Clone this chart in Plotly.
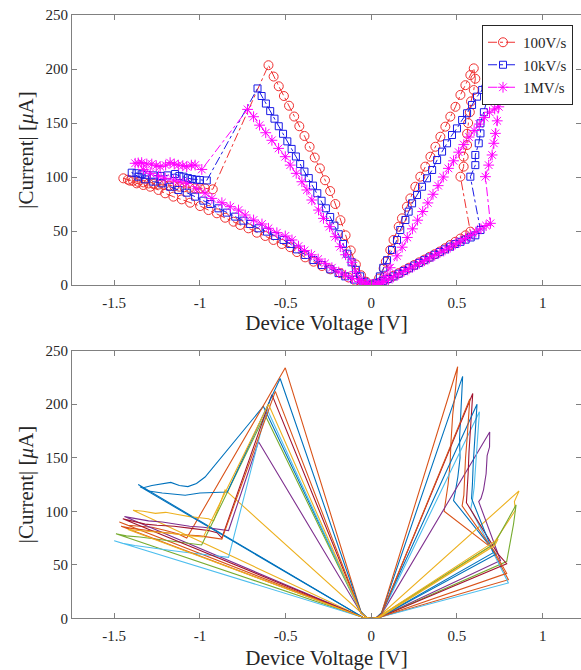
import plotly.graph_objects as go

# ---------------- top panel data (Device voltage [V], |Current| [uA]) ----------------
v_100V = [0, -0.054, -0.093, -0.133, -0.181, -0.239, -0.288, -0.337, -0.386, -0.434, -0.473, -0.522, -0.571, -0.619,
          -0.668, -0.717, -0.765, -0.804, -0.853, -0.901, -0.95, -0.999, -1.057, -1.106, -1.155, -1.203, -1.242,
          -1.29, -1.33, -1.369, -1.408, -1.447,
          -1.42, -1.39, -1.36, -1.33, -1.30, -1.27, -1.24, -1.21, -1.18, -1.15, -1.12, -1.09, -1.06, -1.03, -1.0,
          -0.97, -0.925,
          -0.60, -0.57, -0.54, -0.51, -0.48, -0.45, -0.42, -0.39, -0.36, -0.33, -0.30, -0.27, -0.24, -0.21, -0.18,
          -0.15, -0.12, -0.09, -0.06, -0.03, 0,
          0.02, 0.045, 0.072, 0.085, 0.111, 0.13, 0.16, 0.179, 0.208, 0.228, 0.257, 0.286, 0.315, 0.345, 0.374, 0.403,
          0.432, 0.461, 0.491, 0.52, 0.549, 0.578, 0.598,
          0.607, 0.598, 0.582, 0.575, 0.565, 0.559, 0.559, 0.539, 0.539, 0.52,
          0.578, 0.55, 0.52, 0.49, 0.46, 0.43, 0.40, 0.37, 0.34, 0.31, 0.28, 0.25, 0.22, 0.19, 0.16, 0.13, 0.10,
          0.07, 0.04, 0.01]
i_100V = [0, 1, 4, 7, 11, 14.5, 17.6, 21.6, 25.6, 30.5, 35, 38, 41.7, 45.4,
          48.4, 52.5, 55.6, 58.6, 62.3, 66.4, 69.4, 73.1, 76.2, 79.3, 81.8, 84.9, 88,
          91, 92.6, 94.1, 96.6, 98.8,
          97.5, 96.5, 95.5, 95, 94, 93.5, 93, 92.5, 92, 91.5, 91, 90.5, 90, 89.5, 89.5,
          89.5, 88.6,
          203.5, 193, 184, 175, 166, 156, 147, 138, 128, 118, 108, 97, 87, 75, 60,
          46, 32, 19, 9, 3, 0,
          1, 6, 15.4, 21.6, 32.4, 41.7, 54, 61.7, 72.5, 80.2, 91, 100.3, 109.6, 118.8, 128, 137.3,
          146.6, 155.9, 165, 176, 185, 194.4, 200.6,
          191, 180.5, 170, 160, 150, 140, 129.6, 118.8, 109.6, 100.3,
          49.4, 46, 43, 40, 37, 34, 31, 28.5, 26, 23.5, 21, 18.5, 16, 13.5, 11, 8.5, 6,
          4, 2, 0.5]

v_10kV = [0, -0.05, -0.1, -0.152, -0.191, -0.239, -0.288, -0.337, -0.386, -0.434, -0.473, -0.512, -0.561, -0.609,
          -0.658, -0.707, -0.746, -0.794, -0.843, -0.892, -0.94, -0.98, -1.028, -1.077, -1.126, -1.174, -1.223,
          -1.272, -1.32, -1.359, -1.398,
          -1.37, -1.34, -1.31, -1.27, -1.23, -1.19, -1.145, -1.12, -1.096, -1.07, -1.047, -1.02, -1.0, -0.96,
          -0.664, -0.64, -0.615, -0.59, -0.565, -0.54, -0.515, -0.49, -0.465, -0.44, -0.415, -0.39, -0.365, -0.34,
          -0.315, -0.29, -0.265, -0.24, -0.215, -0.19, -0.165, -0.14, -0.115, -0.09, -0.065, -0.04, 0,
          0.03, 0.05, 0.07, 0.092, 0.121, 0.15, 0.169, 0.199, 0.218, 0.238, 0.267, 0.296, 0.325, 0.355, 0.384,
          0.413, 0.442, 0.471, 0.5, 0.53, 0.559, 0.588, 0.617, 0.647, 0.666,
          0.676, 0.657, 0.637, 0.637, 0.627, 0.607, 0.607, 0.578,
          0.637, 0.607, 0.58, 0.55, 0.52, 0.49, 0.46, 0.43, 0.40, 0.37, 0.34, 0.31, 0.28, 0.25, 0.22, 0.19, 0.16,
          0.13, 0.10, 0.07, 0.04, 0.01]
i_10kV = [0, 2, 5, 8, 11, 14.5, 18.5, 23.1, 27.8, 33, 38, 41.7, 45.4, 49.4,
          52.5, 56.5, 59.6, 63.3, 67, 71, 75, 78.1, 81.8, 85.5, 88, 91, 94.1,
          95.7, 97.8, 100.3, 104,
          103.5, 102.5, 102, 101.5, 101, 101.5, 102.8, 101, 100.3, 99, 98.1, 97.5, 97.2, 96.8,
          182, 175, 168, 161, 154, 147, 140, 133, 126, 119, 112, 105, 99, 92,
          85, 78, 71, 63, 55, 47, 38, 29, 21, 14, 8, 3, 0,
          2, 8, 16, 23, 32.4, 41.7, 50.9, 60.2, 67.9, 75.6, 83.3, 91, 98.8, 106.5, 115.7,
          123.5, 131.2, 138.9, 145, 152.8, 159, 166.7, 174.4, 180.6, 182,
          171.3, 160, 149.7, 140.4, 131.2, 120.4, 111, 100.3,
          50.9, 46, 44, 42, 40, 38, 35.5, 33, 30.5, 28, 25.5, 23, 20.5, 18, 15.5, 13, 10.5,
          8, 5.5, 3.5, 1.5, 0.5]

v_1MV = [0, -0.03, -0.07, -0.11, -0.15, -0.19, -0.23, -0.27, -0.31, -0.35, -0.39, -0.425, -0.463, -0.502, -0.551,
         -0.6, -0.638, -0.687, -0.736, -0.775, -0.823, -0.872, -0.93, -0.97, -1.018, -1.077, -1.116, -1.155,
         -1.203, -1.242, -1.29, -1.33, -1.378,
         -1.36, -1.34, -1.31, -1.281, -1.255, -1.232, -1.2, -1.174, -1.15, -1.126, -1.1, -1.077, -1.05, -1.028,
         -0.989,
         -0.722, -0.687, -0.652, -0.616, -0.58, -0.541, -0.502, -0.473, -0.438, -0.405, -0.376, -0.347, -0.308,
         -0.279, -0.243, -0.21, -0.181, -0.15, -0.113, -0.093, -0.06, -0.03, 0,
         0.02, 0.04, 0.06, 0.08, 0.11, 0.15, 0.18, 0.21, 0.24, 0.27, 0.30, 0.33, 0.36, 0.39, 0.42, 0.45, 0.48,
         0.51, 0.54, 0.57, 0.60, 0.63, 0.66, 0.69, 0.72, 0.744,
         0.735, 0.724, 0.715, 0.705, 0.685, 0.666,
         0.695, 0.67, 0.64, 0.61, 0.58, 0.55, 0.52, 0.49, 0.46, 0.43, 0.40, 0.37, 0.34, 0.31, 0.28, 0.25, 0.22,
         0.19, 0.16, 0.13, 0.10, 0.07, 0.04, 0.01]
i_1MV = [0, 1, 3, 6, 9, 12, 16, 20, 24, 28, 32, 36, 41.7, 45.4, 48.4,
         52.5, 56.5, 60.2, 64.8, 69.4, 72.5, 76.2, 80.2, 85, 89, 94.1, 95.6, 97.2,
         98.8, 100.9, 103.4, 107, 112.7,
         113, 113.3, 112, 112, 110.5, 109.6, 111, 113.3, 112, 111, 110.5, 109.6, 111, 111,
         107,
         162.6, 155.8, 148, 141, 134, 126.5, 118.8, 111, 103.4, 95.6, 88, 78.7, 69.4,
         61.7, 54, 44.7, 35.5, 28, 21, 12.3, 5, 2, 0,
         0.5, 1, 2, 8, 16, 27, 35, 44, 52, 60, 68, 76, 84, 92, 100, 108, 115,
         123, 130, 137, 143, 149, 155, 160, 163, 165,
         152, 140.4, 131.2, 120.4, 111, 100.3,
         57.1, 55, 52, 49, 46, 43, 40.5, 38, 35, 32.5, 30, 27.5, 25, 22.5, 20, 17.5, 15,
         12.5, 10, 7.5, 5, 3, 1.5, 0.5]

# ---------------- bottom panel data: repeated cycles ----------------
cyc_v = [
    [0, -0.05, -1.36, -1.33, -1.28, -1.22, -1.17, -1.12, -1.07, -1.02, -0.97, -0.63, -0.06, -0.03, 0, 0.03, 0.06,
     0.533, 0.528, 0.522, 0.515, 0.518, 0.505, 0.49, 0.48, 0.70, 0.72, 0.05, 0],
    [0, -0.05, -1.47, -1.42, -1.35, -1.28, -1.2, -1.13, -1.077, -0.502, -0.06, -0.03, 0, 0.03, 0.06,
     0.504, 0.49, 0.475, 0.465, 0.46, 0.448, 0.425, 0.70, 0.80, 0.05, 0],
    [0, -0.05, -1.39, -1.33, -1.26, -1.2, -1.13, -1.06, -1.0, -0.95, -0.92, -0.853, -0.03, 0, 0.04,
     0.862, 0.835, 0.841, 0.705, 0.05, 0],
    [0, -0.05, -1.44, -1.38, -1.3, -1.22, -1.14, -1.06, -0.98, -0.9, -0.833, -0.658, -0.06, -0.03, 0, 0.03, 0.06,
     0.691, 0.69, 0.676, 0.67, 0.655, 0.64, 0.627, 0.754, 0.05, 0],
    [0, -0.05, -1.49, -1.43, -1.35, -1.25, -1.15, -1.06, -0.99, -0.62, -0.06, -0.03, 0, 0.04,
     0.72, 0.845, 0.83, 0.79, 0.05, 0],
    [0, -0.05, -1.5, -1.45, -1.38, -1.3, -1.2, -1.1, -1.0, -0.9, -0.833, -0.61, -0.06, -0.03, 0, 0.03, 0.06,
     0.631, 0.625, 0.615, 0.61, 0.60, 0.59, 0.58, 0.70, 0.80, 0.05, 0],
    [0, -0.05, -1.45, -1.4, -1.32, -1.25, -1.15, -1.05, -0.95, -0.9, -0.872, -0.58, -0.06, -0.03, 0, 0.03, 0.06,
     0.592, 0.585, 0.575, 0.57, 0.565, 0.56, 0.555, 0.74, 0.79, 0.05, 0],
    [0, -0.05, -1.35, -1.3, -1.22, -1.15, -1.086, -1.0, -0.9, -0.84, -0.532, -0.06, -0.03, 0, 0.03, 0.06,
     0.617, 0.61, 0.60, 0.595, 0.59, 0.585, 0.71, 0.73, 0.05, 0],
    [0, -0.05, -1.46, -1.4, -1.3, -1.2, -1.1, -1.0, -0.95, -0.9, -0.872, -0.56, -0.06, -0.03, 0, 0.03, 0.06,
     0.575, 0.57, 0.56, 0.55, 0.545, 0.54, 0.53, 0.72, 0.79, 0.05, 0],
    [0, -0.05, -1.42, -1.35, -1.25, -1.15, -1.05, -0.98, -0.6, -0.06, -0.03, 0, 0.04, 0.74, 0.72, 0.05, 0],
]
cyc_i = [
    [0, 1, 125, 122, 124, 126, 127, 124, 123, 126, 132, 198, 6, 1, 0, 0.5, 5,
     226, 210, 190, 168, 150, 132, 118, 110, 66, 62, 1, 0],
    [0, 1, 90, 87, 86, 85, 82, 79, 75, 234, 6, 1, 0, 0.5, 5,
     235, 212, 190, 165, 145, 125, 100, 66, 36, 1, 0],
    [0, 1, 101, 100, 98, 99, 97, 95, 94, 93, 91, 120, 1, 0, 1,
     119, 109, 101, 68, 1, 0],
    [0, 1, 95, 93, 91, 90, 88, 86, 85, 83, 82, 165, 5, 1, 0, 0.5, 4,
     174, 160, 152, 135, 120, 112, 109, 54, 1, 0],
    [0, 1, 79, 77, 76, 74, 72, 70, 68.5, 190, 5, 1, 0, 1,
     70, 106, 88, 53, 1, 0],
    [0, 1, 72.5, 70, 68, 66, 64, 62, 60, 58, 57, 196, 5, 1, 0, 0.5, 4,
     193, 178, 160, 140, 122, 110, 102, 65, 33, 1, 0],
    [0, 1, 93, 91, 88, 87, 86, 84, 82, 80, 75, 209, 5, 1, 0, 0.5, 4,
     210, 195, 175, 155, 135, 118, 108, 60, 51, 1, 0],
    [0, 1, 123, 119, 117, 116, 115, 117, 118, 118, 224, 6, 1, 0, 0.5, 5,
     200, 185, 165, 145, 125, 112, 62, 60, 1, 0],
    [0, 1, 86, 84, 82, 80, 78, 77, 76, 75, 74, 212, 5, 1, 0, 0.5, 4,
     205, 190, 170, 150, 130, 115, 105, 62, 42, 1, 0],
    [0, 1, 83, 82, 80, 79, 77, 76, 200, 5, 1, 0, 1, 74, 68, 1, 0],
]
cyc_colors = ["#0072BD", "#D95319", "#EDB120", "#7E2F8E", "#77AC30", "#4DBEEE", "#A2142F",
              "#0072BD", "#D95319", "#EDB120"]

x_tickvals = [-1.5, -1, -0.5, 0, 0.5, 1]
x_ticktext = ["-1.5", "-1", "-0.5", "0", "0.5", "1"]
y_tickvals = [0, 50, 100, 150, 200, 250]

SERIF = "Liberation Serif, Times New Roman, serif"
AX = "#808080"
TXT = "#262626"

fig = go.Figure()

fig.add_trace(go.Scatter(x=v_100V, y=i_100V, name="100V/s", mode="lines+markers",
                         line=dict(color="#F03030", width=1, dash="dashdot"),
                         marker=dict(symbol="circle-open", size=9, color="#F03030", line=dict(width=1)),
                         xaxis="x", yaxis="y"))
fig.add_trace(go.Scatter(x=v_10kV, y=i_10kV, name="10kV/s", mode="lines+markers",
                         line=dict(color="#1A1AE6", width=1, dash="dashdot"),
                         marker=dict(symbol="square-open", size=7, color="#1A1AE6", line=dict(width=1)),
                         xaxis="x", yaxis="y"))
fig.add_trace(go.Scatter(x=v_1MV, y=i_1MV, name="1MV/s", mode="lines+markers",
                         line=dict(color="#FF00FF", width=1, dash="dashdot"),
                         marker=dict(symbol="asterisk-open", size=9, color="#FF00FF", line=dict(width=1, color="#FF00FF")),
                         xaxis="x", yaxis="y"))

for cv, ci, col in zip(cyc_v, cyc_i, cyc_colors):
    fig.add_trace(go.Scatter(x=cv, y=ci, mode="lines", line=dict(color=col, width=1.1),
                             showlegend=False, xaxis="x2", yaxis="y2", hoverinfo="skip"))

# empty helper traces so the right-hand tick axes are rendered
fig.add_trace(go.Scatter(x=[], y=[], xaxis="x", yaxis="y3", showlegend=False))
fig.add_trace(go.Scatter(x=[], y=[], xaxis="x2", yaxis="y4", showlegend=False))

xdom = [72 / 581, 1.0]
ytop = [1 - 285 / 670, 1 - 15 / 670]
ybot = [1 - 618.3 / 670, 1 - 350.7 / 670]
xr = [-1.7465, 1.2237]

def xaxis_cfg(anchor, dom, standoff):
    return dict(domain=dom, anchor=anchor, range=xr, tickvals=x_tickvals, ticktext=x_ticktext,
                ticks="inside", ticklen=5, tickcolor=AX, showline=True, linecolor=AX, linewidth=1,
                mirror="ticks", showgrid=False, zeroline=False, automargin=False,
                ticklabelstandoff=4,
                tickfont=dict(family=SERIF, size=15, color=TXT),
                title=dict(text="Device Voltage [V]", font=dict(family=SERIF, size=21, color=TXT),
                           standoff=standoff))

def yaxis_cfg(anchor, dom):
    return dict(domain=dom, anchor=anchor, range=[0, 250], tickvals=y_tickvals,
                ticks="inside", ticklen=5, tickcolor=AX, showline=True, linecolor=AX, linewidth=1,
                showgrid=False, zeroline=False, automargin=False,
                tickfont=dict(family=SERIF, size=15, color=TXT),
                title=dict(text="|Current| [<i>μ</i>A]", font=dict(family=SERIF, size=21, color=TXT), standoff=6))

def ymirror_cfg(over):
    return dict(overlaying=over, side="right", range=[0, 250], tickvals=y_tickvals, ticks="inside",
                ticklen=5, tickcolor=AX, showticklabels=False, showline=False, showgrid=False,
                zeroline=False, automargin=False)

fig.update_layout(
    width=581, height=670,
    margin=dict(l=0, r=0, t=0, b=0),
    paper_bgcolor="white", plot_bgcolor="white",
    xaxis=xaxis_cfg("y", xdom, 4),
    yaxis=yaxis_cfg("x", ytop),
    xaxis2=xaxis_cfg("y2", xdom, 9),
    yaxis2=yaxis_cfg("x2", ybot),
    yaxis3=dict(ymirror_cfg("y"), anchor="x"),
    yaxis4=dict(ymirror_cfg("y2"), anchor="x2"),
    legend=dict(x=573 / 581, xanchor="right", y=1 - 25 / 670, yanchor="top",
                bgcolor="white", bordercolor="#262626", borderwidth=1,
                font=dict(family=SERIF, size=15, color=TXT), itemwidth=30, tracegroupgap=0),
    showlegend=True,
)

fig.write_html("out.html")
